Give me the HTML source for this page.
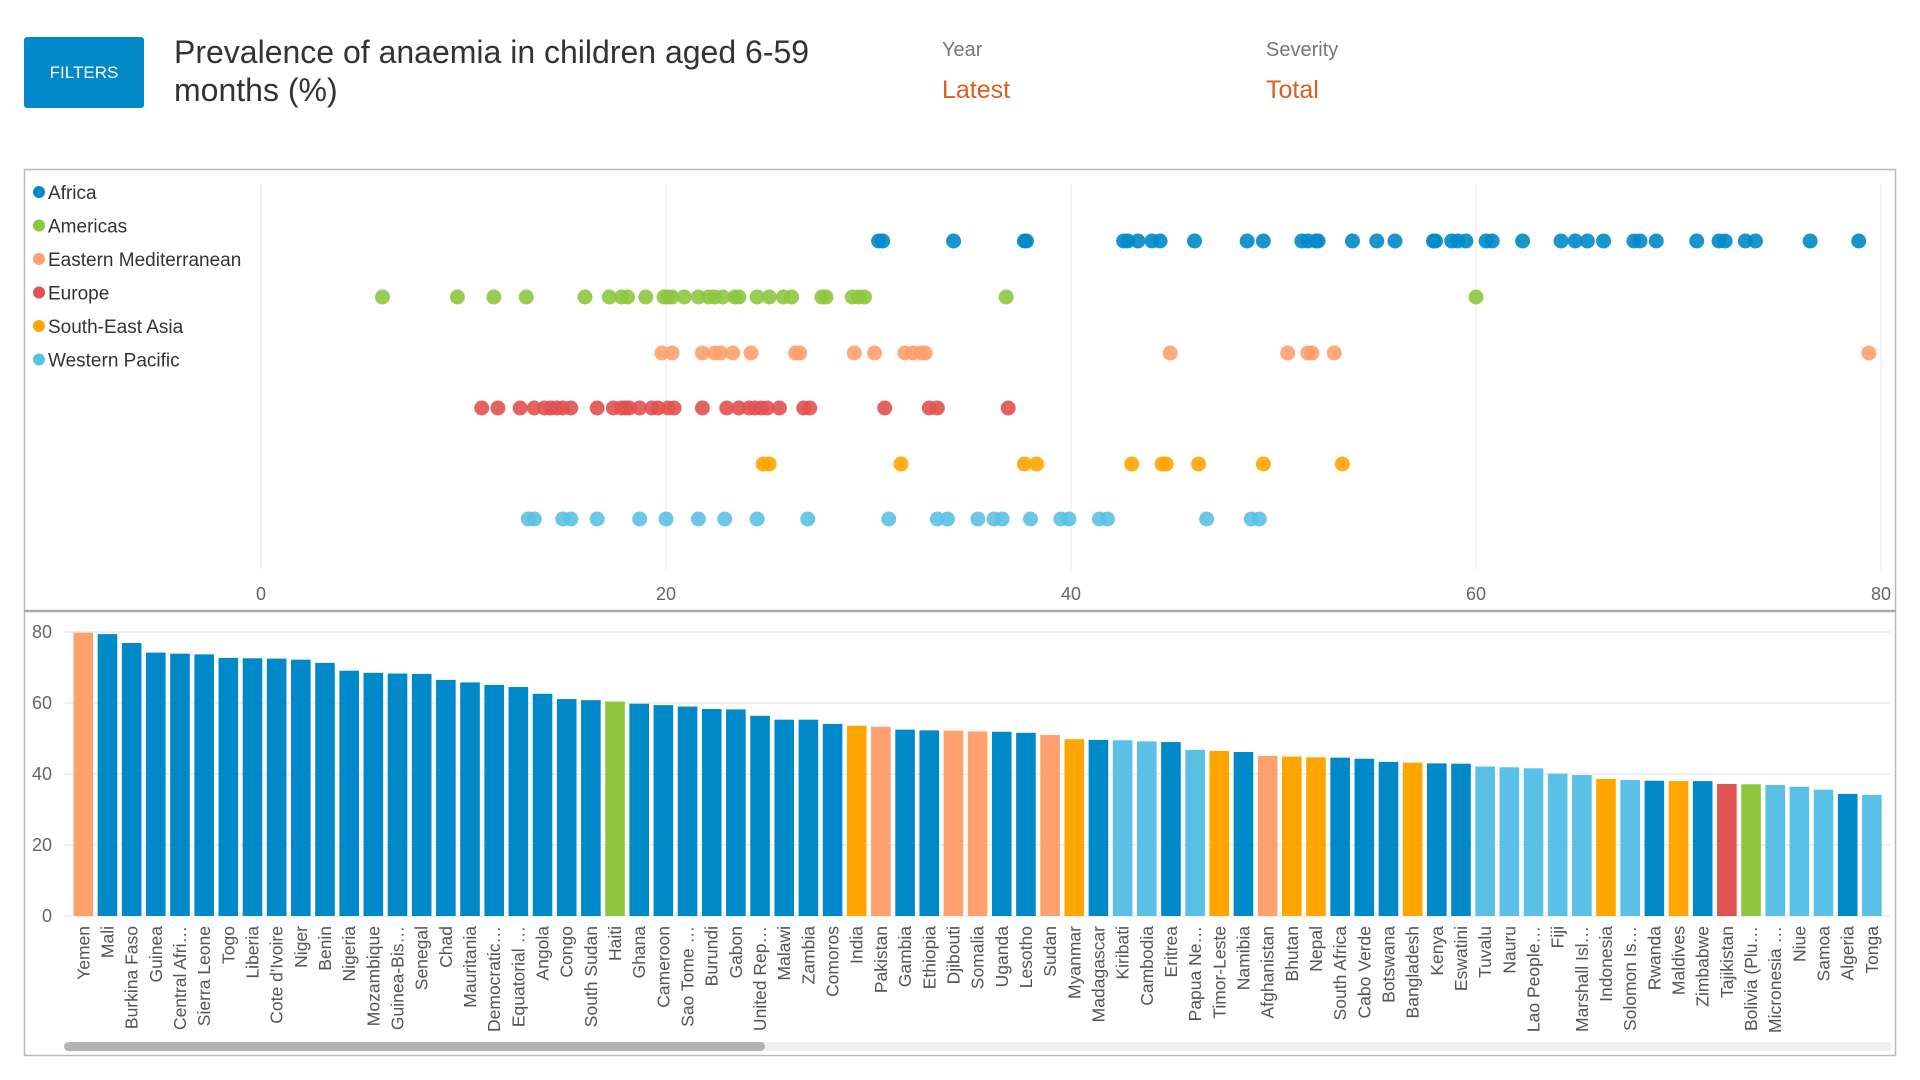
<!DOCTYPE html>
<html><head><meta charset="utf-8"><style>
html,body{margin:0;padding:0;background:#fff;width:1920px;height:1080px;overflow:hidden;font-family:"Liberation Sans",sans-serif}
svg{position:absolute;left:0;top:0}
</style></head><body>
<svg id="s" width="1920" height="1080" xmlns="http://www.w3.org/2000/svg">
<rect x="24" y="37" width="120" height="71" rx="3" fill="#0088c8"/>
<text x="84" y="78" font-size="17" fill="#fff" text-anchor="middle">FILTERS</text>
<text x="174" y="63" font-size="32" fill="#333">Prevalence of anaemia in children aged 6-59</text>
<text x="174" y="101" font-size="32" fill="#333">months (%)</text>
<text x="942" y="56" font-size="20" fill="#777">Year</text>
<text x="942" y="98" font-size="25" fill="#d9601e">Latest</text>
<text x="1266" y="56" font-size="20" fill="#777">Severity</text>
<text x="1266" y="98" font-size="25" fill="#d9601e">Total</text>
<rect x="24.5" y="169.5" width="1871" height="886" fill="none" stroke="#bbb" stroke-width="1.5"/>
<line x1="24" y1="611" x2="1896" y2="611" stroke="#aaa" stroke-width="2.5"/>
<g id="dot"></g><g id="bar"></g>
</svg>
<script>
const regions=["Africa","Americas","Eastern Mediterranean","Europe","South-East Asia","Western Pacific"];
const regionColors=["#0089c9","#8dc63f","#ffa06e","#e05252","#ffa500","#5bc0e6"];
const dotTicks=[0,20,40,60,80];
const africaVals=[30.5,30.7,34.2,37.7,37.8,42.6,42.8,43.3,44.0,44.4,46.1,48.7,49.5,51.4,51.7,52.1,52.2,53.9,55.1,56.0,57.9,58.0,58.8,59.1,59.5,60.5,60.8,62.3,64.2,64.9,65.5,66.3,67.8,68.1,68.9,70.9,72.0,72.3,73.3,73.8,76.5,78.9];
const americasVals=[6.0,9.7,11.5,13.1,16.0,17.2,17.8,18.1,19.0,19.9,20.1,20.3,20.9,21.6,22.1,22.4,22.8,23.4,23.6,24.5,25.1,25.8,26.2,27.7,27.9,29.2,29.5,29.8,36.8,60.0];
const emrVals=[19.8,20.3,21.8,22.4,22.7,23.3,24.2,26.4,26.6,29.3,30.3,31.8,32.2,32.6,32.8,44.9,50.7,51.7,51.9,53.0,79.4];
const europeVals=[10.9,11.7,12.8,13.5,14.0,14.3,14.6,14.9,15.3,16.6,17.4,17.8,18.0,18.2,18.7,19.3,19.6,20.1,20.4,21.8,23.0,23.6,24.1,24.4,24.7,25.0,25.6,26.8,27.1,30.8,33.0,33.4,36.9];
const searVals=[24.8,25.1,31.6,37.7,38.3,43.0,44.5,44.7,46.3,49.5,53.4];
const wprVals=[13.2,13.5,14.9,15.3,16.6,18.7,20.0,21.6,22.9,24.5,27.0,31.0,33.4,33.9,35.4,36.2,36.6,38.0,39.5,39.9,41.4,41.8,46.7,48.9,49.3];
const countries=["Yemen","Mali","Burkina Faso","Guinea","Central Afri…","Sierra Leone","Togo","Liberia","Cote d'Ivoire","Niger","Benin","Nigeria","Mozambique","Guinea-Bis…","Senegal","Chad","Mauritania","Democratic…","Equatorial …","Angola","Congo","South Sudan","Haiti","Ghana","Cameroon","Sao Tome …","Burundi","Gabon","United Rep…","Malawi","Zambia","Comoros","India","Pakistan","Gambia","Ethiopia","Djibouti","Somalia","Uganda","Lesotho","Sudan","Myanmar","Madagascar","Kiribati","Cambodia","Eritrea","Papua Ne…","Timor-Leste","Namibia","Afghanistan","Bhutan","Nepal","South Africa","Cabo Verde","Botswana","Bangladesh","Kenya","Eswatini","Tuvalu","Nauru","Lao People…","Fiji","Marshall Isl…","Indonesia","Solomon Is…","Rwanda","Maldives","Zimbabwe","Tajikistan","Bolivia (Plu…","Micronesia …","Niue","Samoa","Algeria","Tonga"];
const barVals=[79.8,79.4,76.9,74.2,73.9,73.7,72.7,72.6,72.5,72.2,71.3,69.1,68.5,68.3,68.2,66.5,65.8,65.1,64.5,62.6,61.1,60.8,60.4,59.8,59.4,59.0,58.3,58.2,56.4,55.3,55.3,54.1,53.6,53.3,52.5,52.3,52.2,52.0,51.9,51.6,51.0,49.8,49.6,49.5,49.2,49.0,46.8,46.5,46.2,45.1,44.9,44.7,44.6,44.3,43.4,43.2,43.0,42.9,42.1,41.9,41.6,40.1,39.7,38.6,38.3,38.1,38.0,38.0,37.2,37.1,36.9,36.4,35.6,34.4,34.1];
const barRegion=[2,0,0,0,0,0,0,0,0,0,0,0,0,0,0,0,0,0,0,0,0,0,1,0,0,0,0,0,0,0,0,0,4,2,0,0,2,2,0,0,2,4,0,5,5,0,5,4,0,2,4,4,0,0,0,4,0,0,5,5,5,5,5,4,5,0,4,0,3,1,5,5,5,0,5];
const barTicks=[0,20,40,60,80];
const NS="http://www.w3.org/2000/svg";
function mk(p,t,a){const e=document.createElementNS(NS,t);for(const k in a)e.setAttribute(k,a[k]);p.appendChild(e);return e;}
const dx=v=>261+v*(1881-261)/80;
const rowY=[241,297,353,408,464,519];
const dot=document.getElementById('dot');
dotTicks.forEach(t=>{
 const l=mk(dot,'line',{x1:dx(t),x2:dx(t),y1:184,y2:570,stroke:'#e8e8e8','stroke-width':1});
 
 
 const tx=mk(dot,'text',{x:dx(t),y:600,'font-size':18,fill:'#666','text-anchor':'middle'});tx.textContent=t;
 
 
});
[africaVals,americasVals,emrVals,europeVals,searVals,wprVals].forEach((arr,r)=>{
 arr.forEach(v=>{
  const c=mk(dot,'circle',{cx:dx(v),cy:rowY[r],r:7.5,fill:regionColors[r],'fill-opacity':0.9});
  
  
 });
});
regions.forEach((n,i)=>{
 const y=192+i*33.5;
 const g=mk(dot,'g',{});
 
 
 mk(g,'circle',{cx:39,cy:y,r:6,fill:regionColors[i]});
 const t=mk(g,'text',{x:48,y:y+7,'font-size':19,fill:'#333'});t.textContent=n;
});
const bar=document.getElementById('bar');
const by=v=>916-v*(916-632)/80;
barTicks.forEach(t=>{
 const l=mk(bar,'line',{x1:64,x2:1890,y1:by(t),y2:by(t),stroke:'#ebebeb','stroke-width':1.5});
 
 
 const tx=mk(bar,'text',{x:52,y:by(t)+6,'font-size':18,fill:'#666','text-anchor':'end'});tx.textContent=t;
 
 
});
const bx=i=>83.3+i*24.17;
countries.forEach((c,i)=>{
 const r=mk(bar,'rect',{x:bx(i)-9.8,y:by(barVals[i]),width:19.6,height:916-by(barVals[i]),fill:regionColors[barRegion[i]]});
 
 
 const t=mk(bar,'text',{x:0,y:0,'font-size':17.5,fill:'#555','text-anchor':'end',transform:`translate(${bx(i)+6},926) rotate(-90)`});
 t.textContent=c;
 
 
});
const tr=mk(bar,'rect',{x:64,y:1042,width:1828,height:9,rx:4.5,fill:'#efefef'});


const th=mk(bar,'rect',{x:64,y:1042,width:701,height:9,rx:4.5,fill:'#b3b3b3'});


</script>
</body></html>
